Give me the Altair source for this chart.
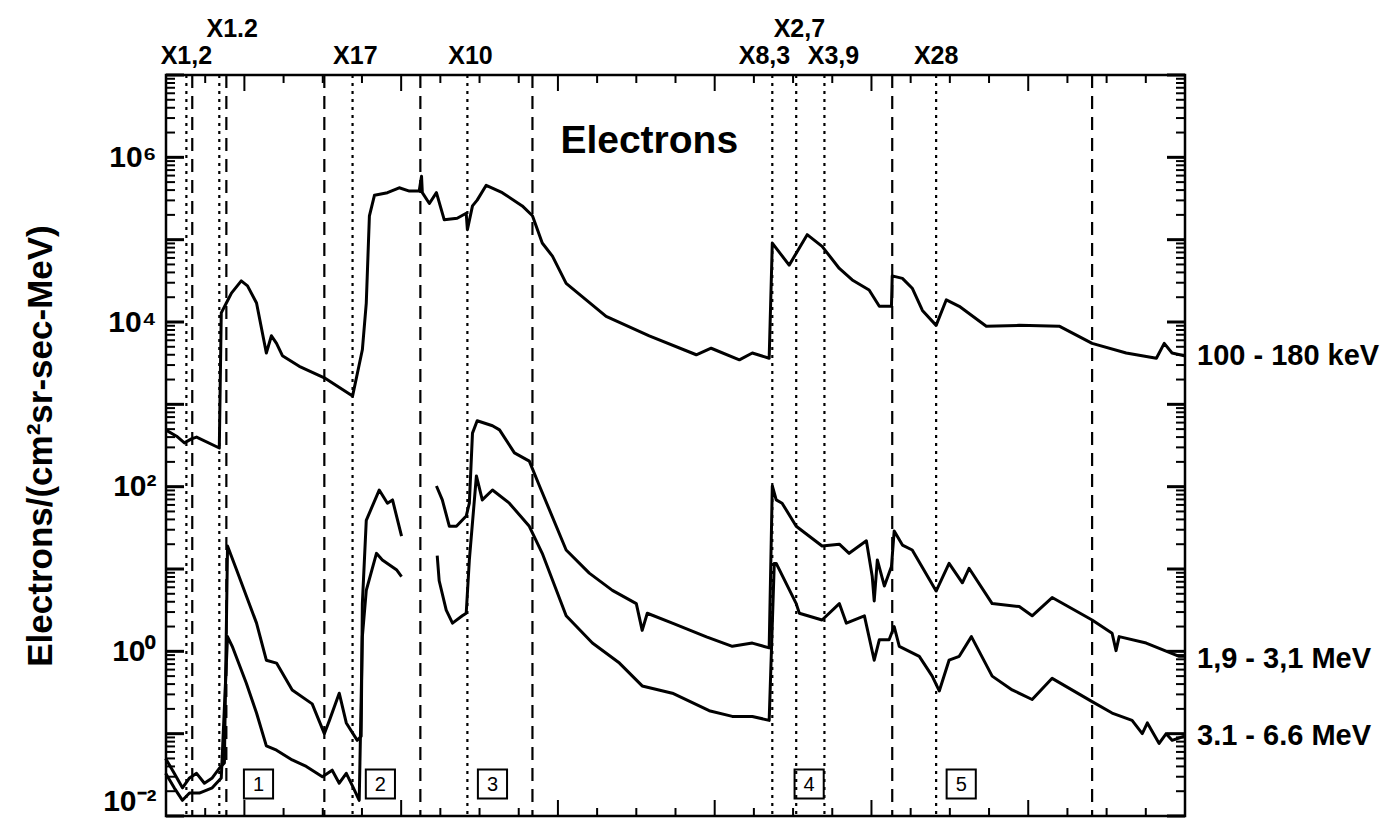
import altair as alt
import pandas as pd

W, H = 1019, 741
FONT = "Liberation Sans"

# ---- data (x: time in tick units, y: flux) ----
kev_t = [-2.01, -1.73, -1.53, -1.35, -1.22, -0.64, -0.59, -0.46, -0.33, -0.08, 0.08, 0.31, 0.56, 0.69, 0.82,
         0.97, 1.40, 2.04, 2.76, 3.01, 3.11, 3.19, 3.32, 3.65, 3.95, 4.21, 4.46, 4.52, 4.54, 4.72, 4.90, 5.10,
         5.43, 5.66, 5.69, 5.82, 5.94, 6.17, 6.58, 7.09, 7.35, 7.60, 7.86, 8.21, 9.23, 10.33, 11.53, 11.91,
         12.63, 12.96, 13.39, 13.47, 13.90, 14.36, 14.74, 15.18, 15.51, 15.94, 16.20, 16.51, 16.53, 16.79,
         17.04, 17.30, 17.65, 17.91, 18.24, 18.93, 19.77, 20.79, 21.63, 22.50, 23.27, 23.47, 23.67, 23.98]
kev_v = [490, 410, 340, 380, 400, 295, 12900, 17000, 22400, 31600, 27500, 17000, 4200, 6800, 5500,
         3900, 2900, 2100, 1260, 4600, 17000, 195000, 347000, 372000, 427000, 389000, 389000, 589000, 372000,
         275000, 372000, 174000, 182000, 209000, 132000, 257000, 302000, 457000, 372000, 257000, 195000,
         91000, 63000, 29500, 11700, 6800, 4000, 4800, 3470, 4200, 3630, 91000, 49000, 115000, 83000, 44700,
         32400, 24500, 15500, 15500, 36300, 33900, 25700, 13800, 9100, 18600, 15500, 8900, 9100, 8900, 5500,
         4200, 3630, 5500, 4200, 3900]

mid_a_t = [-2.01, -1.79, -1.58, -1.40, -1.22, -1.02, -0.82, -0.64, -0.51, -0.43, -0.20, 0.05, 0.31, 0.56,
           0.82, 1.22, 1.73, 2.04, 2.17, 2.42, 2.60, 2.88, 2.98, 3.01, 3.11, 3.44, 3.65, 3.78, 4.01]
mid_a_v = [0.050, 0.033, 0.022, 0.029, 0.033, 0.025, 0.029, 0.038, 0.044, 19, 9.8, 4.7, 2.2, 0.78,
           0.72, 0.34, 0.23, 0.10, 0.145, 0.31, 0.135, 0.083, 0.093, 3.8, 39, 91, 63, 69, 25]
mid_b_t = [4.90, 5.05, 5.23, 5.41, 5.66, 5.74, 5.82, 5.94, 6.33, 6.51, 6.89, 7.27, 7.53, 8.21, 8.80, 9.39,
           10.00, 10.15, 10.28, 10.92, 11.79, 12.45, 12.96, 13.39, 13.47, 13.57, 13.72, 14.08, 14.74, 15.18,
           15.43, 15.87, 16.02, 16.07, 16.15, 16.33, 16.51, 16.58, 16.79, 17.04, 17.65, 17.98, 18.32, 18.49,
           19.08, 19.77, 20.10, 20.61, 21.63, 22.14, 22.24, 22.32, 23.01, 23.85, 23.98]
mid_b_v = [102, 69, 33, 33, 44, 63, 447, 631, 550, 490, 257, 204, 102, 17, 8.9, 5.5,
           3.8, 1.8, 2.9, 2.2, 1.5, 1.15, 1.26, 1.10, 102, 69, 63, 33, 19, 20,
           15.5, 22, 8.1, 4.1, 12.9, 6.2, 10.7, 29, 19.5, 17, 5.4, 11.7, 6.8, 10.2,
           3.8, 3.5, 2.7, 4.5, 2.4, 1.66, 1.02, 1.51, 1.26, 0.87, 0.87]

bot_a_t = [-2.01, -1.79, -1.58, -1.40, -1.15, -0.82, -0.59, -0.43, -0.31, 0.05, 0.31, 0.56, 0.82, 1.22,
           1.58, 1.99, 2.24, 2.42, 2.60, 2.76, 2.93, 3.01, 3.11, 3.37, 3.52, 3.88, 4.01]
bot_a_v = [0.033, 0.022, 0.0155, 0.019, 0.019, 0.022, 0.029, 1.51, 1.15, 0.41, 0.178, 0.071, 0.063, 0.048,
           0.040, 0.030, 0.036, 0.025, 0.033, 0.023, 0.0155, 1.51, 5.5, 15.5, 12.9, 9.8, 8.1]
bot_b_t = [4.92, 4.97, 5.15, 5.31, 5.56, 5.66, 5.74, 5.92, 6.07, 6.33, 6.76, 7.27, 7.60, 8.21, 8.88, 9.57,
           10.15, 10.92, 11.86, 12.45, 12.96, 13.39, 13.52, 13.57, 14.08, 14.16, 14.74, 15.18, 15.36, 15.82,
           16.07, 16.20, 16.45, 16.58, 16.71, 17.22, 17.55, 17.73, 17.98, 18.24, 18.55, 19.08, 19.59, 20.10,
           20.61, 21.63, 22.14, 22.65, 22.91, 23.04, 23.34, 23.52, 23.67, 23.98]
bot_b_v = [14.5, 7.2, 3.16, 2.2, 2.7, 2.9, 12.9, 135, 69, 91, 63, 33, 15.5, 2.7, 1.26, 0.72,
           0.38, 0.31, 0.19, 0.162, 0.162, 0.145, 11.7, 11.7, 3.8, 2.9, 2.4, 3.8, 2.2, 2.7,
           0.78, 1.38, 1.38, 2.0, 1.15, 0.87, 0.50, 0.33, 0.78, 0.87, 1.51, 0.50, 0.34, 0.26,
           0.47, 0.245, 0.178, 0.145, 0.10, 0.135, 0.076, 0.10, 0.083, 0.093]

flare_t = [-1.48, -0.64, 2.76, 5.69, 13.47, 14.08, 14.80, 17.65]     # dotted lines
boundary_t = [-1.33, -0.46, 2.04, 4.49, 7.35, 16.53, 21.63]         # dashed lines

flare_low_lab = ["X1,2", "X17", "X10", "X8,3", "X3,9", "X28"]
flare_low_t = [-1.48, 2.83, 5.77, 13.27, 15.03, 17.65]
flare_up_lab = ["X1.2", "X2,7"]
flare_up_t = [-0.31, 14.16]

region_lab = ["1", "2", "3", "4", "5"]
region_t = [0.36, 3.47, 6.33, 14.41, 18.29]

series_lab = ["100 - 180 keV", "1,9 - 3,1 MeV", "3.1 - 6.6 MeV"]
series_lab_v = [3900, 0.8, 0.093]

ylab_vals = [0.01, 1, 100, 1e4, 1e6]
ylab_text = ["10⁻²", "10⁰", "10²", "10⁴", "10⁶"]

x_minor = [k for k in range(-2, 25) if k % 4 != 0]
x_major = [k for k in range(-2, 25) if k % 4 == 0]
y_major = [10.0 ** n for n in range(-2, 8)]
y_minor = [k * 10.0 ** n for n in range(-2, 7) for k in range(2, 10)]

# ---- build tables ----
curves = pd.concat([
    pd.DataFrame({"t": kev_t, "v": kev_v, "key": "kev"}),
    pd.DataFrame({"t": mid_a_t, "v": mid_a_v, "key": "mid_a"}),
    pd.DataFrame({"t": mid_b_t, "v": mid_b_v, "key": "mid_b"}),
    pd.DataFrame({"t": bot_a_t, "v": bot_a_v, "key": "bot_a"}),
    pd.DataFrame({"t": bot_b_t, "v": bot_b_v, "key": "bot_b"}),
], ignore_index=True)

x_scale = alt.Scale(domain=[-2, 24], nice=False, zero=False)
y_scale = alt.Scale(type="log", domain=[0.01, 1e7], nice=False)

expr = " : ".join(f"datum.value == {v} ? '{s}'" for v, s in zip(ylab_vals, ylab_text)) + " : ''"
y_axis = alt.Axis(values=ylab_vals, labelExpr=expr, ticks=False, domain=False, grid=False,
                  labelFont=FONT, labelFontWeight="bold", labelFontSize=30, labelColor="black",
                  labelPadding=10,
                  labelBaseline={"condition": {"test": "datum.value < 0.05", "value": "bottom"},
                                 "value": "middle"},
                  title="Electrons/(cm²sr-sec-MeV)", titleFont=FONT,
                  titleFontSize=35, titleFontWeight="bold", titleColor="black", titlePadding=44)


def X(field="t"):
    return alt.X(f"{field}:Q", scale=x_scale, axis=None)


def Y(field="v"):
    return alt.Y(f"{field}:Q", scale=y_scale, axis=y_axis)


lines = alt.Chart(curves).mark_line(color="black", strokeWidth=3, strokeJoin="round").encode(
    x=X(), y=Y(), detail="key:N", order="t:Q")

dotted = alt.Chart(pd.DataFrame({"t": flare_t})).mark_rule(
    color="black", strokeWidth=2.2, strokeDash=[3, 5]).encode(x=X())
dashed = alt.Chart(pd.DataFrame({"t": boundary_t})).mark_rule(
    color="black", strokeWidth=2.2, strokeDash=[13, 8]).encode(x=X())

xt_minor = pd.DataFrame({"t": x_minor})
xt_major = pd.DataFrame({"t": x_major})
tick_layers = [
    alt.Chart(xt_minor).mark_rule(color="black", strokeWidth=2).encode(x=X(), y=alt.value(0), y2=alt.value(8)),
    alt.Chart(xt_major).mark_rule(color="black", strokeWidth=2).encode(x=X(), y=alt.value(0), y2=alt.value(16)),
    alt.Chart(xt_minor).mark_rule(color="black", strokeWidth=2).encode(x=X(), y=alt.value(H), y2=alt.value(H - 8)),
    alt.Chart(xt_major).mark_rule(color="black", strokeWidth=2).encode(x=X(), y=alt.value(H), y2=alt.value(H - 16)),
]
yt_minor = pd.DataFrame({"v": y_minor})
yt_major = pd.DataFrame({"v": y_major})
tick_layers += [
    alt.Chart(yt_minor).mark_rule(color="black", strokeWidth=2).encode(y=Y(), x=alt.value(0), x2=alt.value(9)),
    alt.Chart(yt_major).mark_rule(color="black", strokeWidth=3).encode(y=Y(), x=alt.value(0), x2=alt.value(18)),
    alt.Chart(yt_minor).mark_rule(color="black", strokeWidth=2).encode(y=Y(), x=alt.value(W), x2=alt.value(W - 9)),
    alt.Chart(yt_major).mark_rule(color="black", strokeWidth=3).encode(y=Y(), x=alt.value(W), x2=alt.value(W - 18)),
]

flare_low = alt.Chart(pd.DataFrame({"t": flare_low_t, "lab": flare_low_lab})).mark_text(
    font=FONT, fontWeight="bold", fontSize=25, baseline="middle", color="black").encode(
    x=X(), y=alt.value(-19), text="lab:N")
flare_up = alt.Chart(pd.DataFrame({"t": flare_up_t, "lab": flare_up_lab})).mark_text(
    font=FONT, fontWeight="bold", fontSize=25, baseline="middle", color="black").encode(
    x=X(), y=alt.value(-46), text="lab:N")

title_txt = alt.Chart(pd.DataFrame({"t": [10.33], "lab": ["Electrons"]})).mark_text(
    font=FONT, fontWeight="bold", fontSize=39, baseline="middle", color="black").encode(
    x=X(), y=alt.value(66), text="lab:N")

reg_df = pd.DataFrame({"t": region_t, "lab": region_lab})
reg_box = alt.Chart(reg_df).mark_point(shape="square", filled=False, size=850, color="black",
                                       strokeWidth=2, opacity=1).encode(x=X(), y=alt.value(H - 32))
reg_txt = alt.Chart(reg_df).mark_text(font=FONT, fontSize=20, baseline="middle", color="black").encode(
    x=X(), y=alt.value(H - 31), text="lab:N")

right_lab = alt.Chart(pd.DataFrame({"v": series_lab_v, "lab": series_lab})).mark_text(
    font=FONT, fontWeight="bold", fontSize=29, align="left", baseline="middle", color="black").encode(
    x=alt.value(W + 12), y=Y(), text="lab:N")

chart = alt.layer(
    *tick_layers, dotted, dashed, lines, flare_low, flare_up, title_txt, reg_box, reg_txt, right_lab
).properties(
    width=W, height=H,
    padding={"left": 15, "top": 9, "right": 5, "bottom": 5},
    background="white",
).configure_view(stroke="black", strokeWidth=2.5)

chart.save("out.html", embed_options={"renderer": "svg", "actions": False})
